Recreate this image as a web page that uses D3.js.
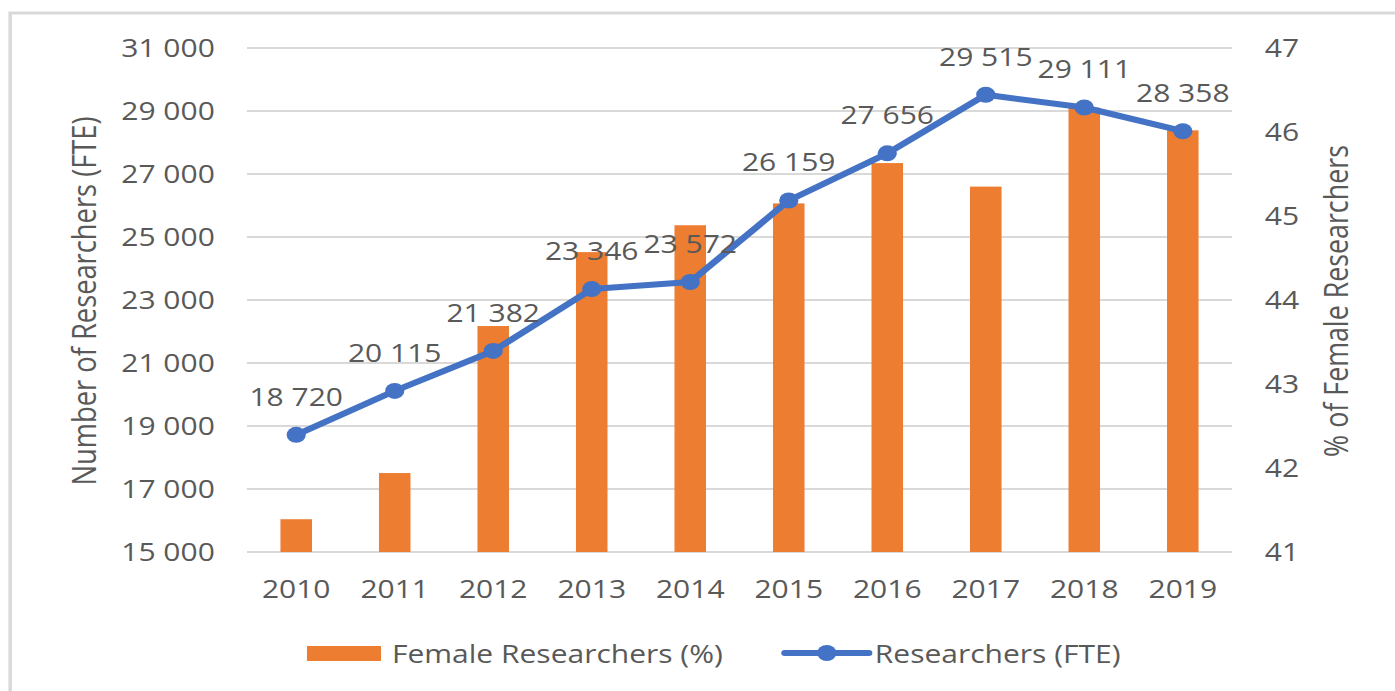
<html>
  <head>
    <title>Researchers</title>
    <script src="https://cdn.jsdelivr.net/npm/d3@7"></script>
    <style>
body { margin: 0; background: #fff; }
text { font-family: "Open Sans", sans-serif; fill: #595959; }
.grid line { stroke: #d9d9d9; stroke-width: 2px; }
    </style>
  </head>
  <body>
    <script>

var years = ["2010", "2011", "2012", "2013", "2014", "2015", "2016", "2017", "2018", "2019"];
var researchers = [18720, 20115, 21382, 23346, 23572, 26159, 27656, 29515, 29111, 28358];
var femalePct = [41.39, 41.94, 43.69, 44.57, 44.89, 45.15, 45.63, 45.35, 46.29, 46.02];
var leftTicks = [15000, 17000, 19000, 21000, 23000, 25000, 27000, 29000, 31000];
var rightTicks = [41, 42, 43, 44, 45, 46, 47];

// the reference is stretched sideways, so draw narrow and stretch
var sx = 1.2,
    W = 1395 / sx,
    H = 691;

var svg = d3.select("body").append("svg")
    .attr("width", 1395)
    .attr("height", H)
    .attr("viewBox", "0 0 " + W + " " + H)
    .attr("preserveAspectRatio", "none")
    .style("display", "block");

svg.append("rect")
    .attr("x", 8.5).attr("y", 13)
    .attr("width", W).attr("height", H)
    .attr("fill", "none")
    .attr("stroke", "#d9d9d9")
    .attr("stroke-width", 3);

var x = d3.scaleBand().domain(years).range([205.8, 1026.7]),
    yL = d3.scaleLinear().domain([15000, 31000]).range([552, 48]),
    yR = d3.scaleLinear().domain([41, 47]).range([552, 48]);

var fmt = function(v) { return d3.format(",")(v).replace(",", " "); };

svg.append("g").attr("class", "grid")
  .selectAll("line")
    .data(leftTicks)
  .enter().append("line")
    .attr("x1", x.range()[0])
    .attr("x2", x.range()[1])
    .attr("y1", yL)
    .attr("y2", yL);

svg.append("g").selectAll("text")
    .data(leftTicks)
  .enter().append("text")
    .attr("x", 179)
    .attr("y", yL)
    .attr("dy", ".35em")
    .attr("text-anchor", "end")
    .style("font-size", "25px")
    .text(fmt);

svg.append("g").selectAll("text")
    .data(rightTicks)
  .enter().append("text")
    .attr("x", 1054)
    .attr("y", yR)
    .attr("dy", ".35em")
    .style("font-size", "25px")
    .text(function(d) { return d; });

svg.append("g").selectAll("text")
    .data(years)
  .enter().append("text")
    .attr("x", function(d) { return x(d) + x.bandwidth() / 2; })
    .attr("y", 598)
    .attr("text-anchor", "middle")
    .style("font-size", "25px")
    .text(function(d) { return d; });

svg.append("text")
    .attr("transform", "translate(80,301) rotate(-90)")
    .attr("text-anchor", "middle")
    .style("font-size", "27.3px")
    .text("Number of Researchers (FTE)");

svg.append("text")
    .attr("transform", "translate(1123,301) rotate(-90)")
    .attr("text-anchor", "middle")
    .style("font-size", "26.8px")
    .text("% of Female Researchers");

var bw = x.bandwidth() * 0.32;

svg.append("g").selectAll("rect")
    .data(femalePct)
  .enter().append("rect")
    .attr("x", function(d, i) { return x(years[i]) + (x.bandwidth() - bw) / 2; })
    .attr("y", function(d) { return yR(d); })
    .attr("width", bw)
    .attr("height", function(d) { return yR(41) - yR(d); })
    .attr("fill", "#ed7d31");

var cx = function(d, i) { return x(years[i]) + x.bandwidth() / 2; };

svg.append("path")
    .datum(researchers)
    .attr("fill", "none")
    .attr("stroke", "#4472c4")
    .attr("stroke-width", 6)
    .attr("stroke-linejoin", "round")
    .attr("d", d3.line().x(cx).y(function(d) { return yL(d); }));

svg.append("g").selectAll("circle")
    .data(researchers)
  .enter().append("circle")
    .attr("cx", cx)
    .attr("cy", function(d) { return yL(d); })
    .attr("r", 8)
    .attr("fill", "#4472c4");

svg.append("g").selectAll("text")
    .data(researchers)
  .enter().append("text")
    .attr("x", cx)
    .attr("y", function(d) { return yL(d) - 29; })
    .attr("text-anchor", "middle")
    .style("font-size", "25px")
    .text(fmt);

// legend
var lg = svg.append("g");
lg.append("rect")
    .attr("x", 255.8).attr("y", 646)
    .attr("width", 61.7).attr("height", 15)
    .attr("fill", "#ed7d31");
lg.append("text")
    .attr("x", 326.7).attr("y", 663)
    .style("font-size", "25px")
    .text("Female Researchers (%)");
lg.append("line")
    .attr("x1", 654).attr("x2", 724)
    .attr("y1", 653).attr("y2", 653)
    .attr("stroke", "#4472c4")
    .attr("stroke-width", 6)
    .attr("stroke-linecap", "round");
lg.append("circle")
    .attr("cx", 689).attr("cy", 653).attr("r", 8)
    .attr("fill", "#4472c4");
lg.append("text")
    .attr("x", 729).attr("y", 663)
    .style("font-size", "25px")
    .text("Researchers (FTE)");

    </script>
  </body>
</html>
